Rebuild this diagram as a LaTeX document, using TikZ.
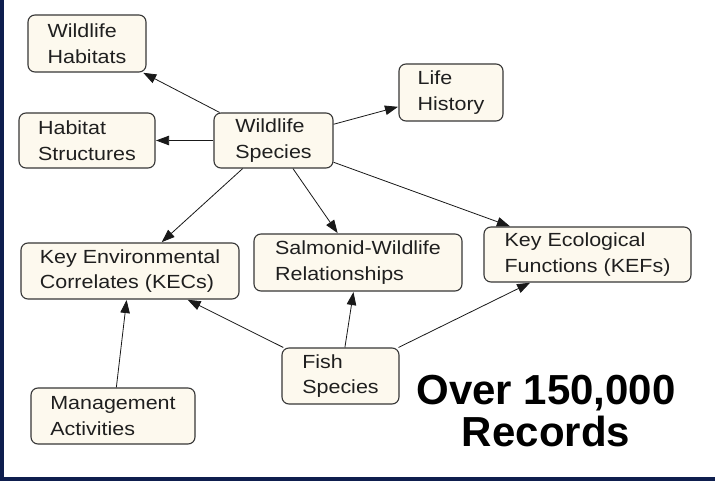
\documentclass[tikz,border=0pt]{standalone}
\usepackage{fontspec}
\setmainfont{Liberation Sans}
\newfontfamily\boxfont{Liberation Sans}[FakeStretch=1.13]
\usetikzlibrary{arrows.meta}
\definecolor{cream}{RGB}{253,249,238}
\definecolor{navy}{RGB}{14,30,78}
\definecolor{boxline}{RGB}{55,55,55}
\begin{document}
\begin{tikzpicture}[x=1pt,y=-1pt,
  box/.style={draw=boxline, fill=cream, line width=1.1pt, rounded corners=7pt,
    align=left, inner xsep=18pt, inner ysep=2pt, text=black!88,
    font=\boxfont\fontsize{19}{25.5}\selectfont},
  link/.style={line width=0.8pt, draw=black!90, -{Triangle[length=13pt,width=9.5pt]}, shorten >=0.5pt},
  big/.style={font=\bfseries\fontsize{42}{42}\selectfont, align=center, text=black}]
\useasboundingbox (0,0) rectangle (715,481);
\fill[white] (0,0) rectangle (715,481);
\fill[navy] (0,0) rectangle (4,481);
\fill[navy] (0,477) rectangle (715,481);

\node[box, minimum width=118pt, minimum height=57pt] (wh)  at (87,43.5)   {Wildlife\\Habitats};
\node[box, minimum width=136pt, minimum height=55pt] (hs)  at (87,140.5)  {Habitat\\Structures};
\node[box, minimum width=119pt, minimum height=55pt] (ws)  at (273.5,140.5) {Wildlife\\Species};
\node[box, minimum width=104pt, minimum height=57pt] (lh)  at (451,92.5)  {Life\\History};
\node[box, minimum width=218pt, minimum height=56pt] (kec) at (130,271)   {Key Environmental\\Correlates (KECs)};
\node[box, minimum width=208pt, minimum height=57pt] (swr) at (358,262.5) {Salmonid-Wildlife\\Relationships};
\node[box, minimum width=207pt, minimum height=55pt] (kef) at (587.5,254.5) {Key Ecological\\Functions (KEFs)};
\node[box, minimum width=117pt, minimum height=56pt] (fs)  at (340.5,376) {Fish\\Species};
\node[box, minimum width=164pt, minimum height=56pt] (ma)  at (113,416)   {Management\\Activities};

\node[big] (rec) at (546,411) {Over 150,000\\Records};

\draw[link] (ws) -- (wh);
\draw[link] (ws) -- (hs);
\draw[link] (ws) -- (lh);
\draw[link] (ws) -- (kec);
\draw[link] (ws) -- (swr);
\draw[link] (ws) -- (kef);
\draw[link] (fs) -- (kec);
\draw[link] (fs) -- (swr);
\draw[link] (fs) -- (kef);
\draw[link] (ma) -- (kec);
\end{tikzpicture}
\end{document}
